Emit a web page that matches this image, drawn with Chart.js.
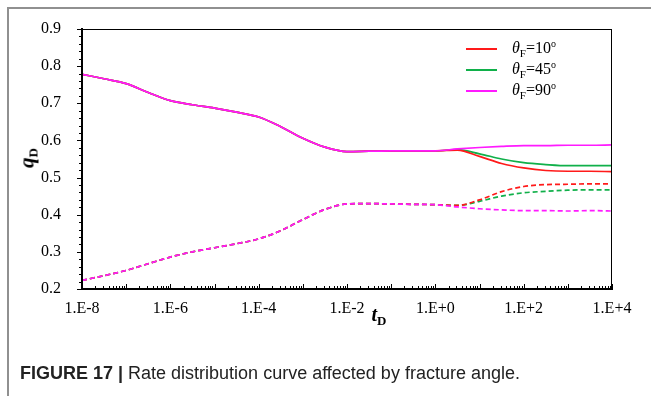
<!DOCTYPE html>
<html>
<head>
<meta charset="utf-8">
<script src="https://cdn.jsdelivr.net/npm/chart.js@4.4.1/dist/chart.umd.min.js"></script>
<style>
  html, body { margin: 0; padding: 0; background: #fff; }
  #wrap { position: relative; width: 651px; height: 396px; overflow: hidden; }
  #frame { position: absolute; left: 7px; top: 7px; right: -2px; bottom: -2px;
           border-top: 2px solid #909090; border-left: 2px solid #909090; }
  #chartBox { position: absolute; left: 0; top: 0; width: 651px; height: 396px; }
  .serif { font-family: 'Liberation Serif', 'Times New Roman', serif; color: #000; }
  #yTitle { position: absolute; left: 28px; top: 158px; transform: translate(-50%, -50%) rotate(-90deg);
            font-size: 21px; white-space: nowrap; }
  #xTitle { position: absolute; left: 379px; top: 316px; transform: translate(-50%, -50%);
            font-size: 20px; white-space: nowrap; }
  .sub { font-size: 13px; font-weight: bold; font-style: normal; vertical-align: -4px; }
  #legend { position: absolute; left: 466px; top: 38px; font-size: 16px; }
  #legend .row { height: 21px; display: flex; align-items: center; }
  #legend .swatch { width: 31px; height: 2px; margin-right: 15px; }
  #legend .lsub { font-size: 11px; vertical-align: -4px; }
  #legend .lsup { font-size: 10px; vertical-align: 6px; }
  #caption { position: absolute; left: 20px; top: 363px; font-family: 'Liberation Sans', Arial, sans-serif;
             font-size: 18px; color: #222; white-space: nowrap; }
</style>
</head>
<body>
<div id="wrap">
  <div id="frame"></div>
  <div id="chartBox"><canvas id="rateChart" width="651" height="396"></canvas></div>
  <div id="yTitle" class="serif"><b><i>q</i></b><span class="sub">D</span></div>
  <div id="xTitle" class="serif"><b><i>t</i></b><span class="sub">D</span></div>
  <div id="legend" class="serif"></div>
  <div id="caption"><b>FIGURE 17 |</b> Rate distribution curve affected by fracture angle.</div>
</div>
<script>
// dimensionless time, half-decade steps
const tD = [1e-8, 3.16e-8, 1e-7, 3.16e-7, 1e-6, 3.16e-6, 1e-5, 3.16e-5, 1e-4, 3.16e-4,
            1e-3, 3.16e-3, 1e-2, 3.16e-2, 1e-1, 3.16e-1, 1, 3.16, 10, 31.6, 100, 316, 1000, 3160, 10000];

// solid curves
const qSolid10 = [0.778, 0.766, 0.753, 0.729, 0.707, 0.696, 0.687, 0.676, 0.663, 0.637,
                  0.606, 0.582, 0.570, 0.571, 0.572, 0.572, 0.572, 0.574, 0.557, 0.538,
                  0.526, 0.519, 0.517, 0.517, 0.516];
const qSolid45 = [0.778, 0.766, 0.753, 0.729, 0.707, 0.696, 0.687, 0.676, 0.663, 0.637,
                  0.606, 0.582, 0.570, 0.571, 0.572, 0.572, 0.572, 0.575, 0.564, 0.550,
                  0.540, 0.535, 0.532, 0.532, 0.532];
const qSolid90 = [0.778, 0.766, 0.753, 0.729, 0.707, 0.696, 0.687, 0.676, 0.663, 0.637,
                  0.606, 0.582, 0.570, 0.571, 0.572, 0.572, 0.572, 0.577, 0.581, 0.584,
                  0.586, 0.586, 0.587, 0.587, 0.588];

// dashed curves
const qDash10 = [0.223, 0.236, 0.250, 0.268, 0.286, 0.300, 0.311, 0.322, 0.335, 0.357,
                 0.387, 0.414, 0.429, 0.430, 0.429, 0.428, 0.427, 0.425, 0.440, 0.462,
                 0.476, 0.481, 0.482, 0.483, 0.483];
const qDash45 = [0.223, 0.236, 0.250, 0.268, 0.286, 0.300, 0.311, 0.322, 0.335, 0.357,
                 0.387, 0.414, 0.429, 0.430, 0.429, 0.428, 0.427, 0.425, 0.436, 0.450,
                 0.459, 0.463, 0.466, 0.467, 0.467];
const qDash90 = [0.223, 0.236, 0.250, 0.268, 0.286, 0.300, 0.311, 0.322, 0.335, 0.357,
                 0.387, 0.414, 0.429, 0.430, 0.429, 0.428, 0.427, 0.421, 0.416, 0.413,
                 0.411, 0.411, 0.410, 0.411, 0.410];

const angles = ['10', '45', '90'];
const colors = ['#ff1a1a', '#10b04a', '#ff1aff'];
const xTickValues = [1e-8, 1e-6, 1e-4, 1e-2, 1, 1e2, 1e4];
const yMin = 0.2, yMax = 0.9;

const pts = arr => arr.map((v, i) => ({ x: tD[i], y: v }));

const solids = [qSolid10, qSolid45, qSolid90];
const dashes = [qDash10, qDash45, qDash90];

const datasets = [];
solids.forEach((s, i) => datasets.push({
    label: 'θF=' + angles[i] + '°',
    data: pts(s),
    borderColor: colors[i],
    borderWidth: 1.7,
    order: i === 2 ? 0 : 1
}));
dashes.forEach((s, i) => datasets.push({
    label: '',
    data: pts(s),
    borderColor: colors[i],
    borderWidth: 1.7,
    borderDash: [5, 3],
    order: i === 2 ? 0 : 1
}));

// inward tick marks on the x axis, outward on the y axis, plus the thin box
const tickMarks = {
    id: 'tickMarks',
    afterDraw(chart) {
        const { ctx, chartArea: a, scales: { x, y } } = chart;
        ctx.save();
        ctx.strokeStyle = '#000';
        ctx.lineWidth = 1;
        ctx.strokeRect(a.left + 0.5, a.top + 0.5, a.right - a.left - 1, a.bottom - a.top);
        ctx.beginPath();
        for (let k = 0; k <= 35; k++) {
            const py = Math.round(y.getPixelForValue(yMin + k * 0.02)) + 0.5;
            const len = k % 5 === 0 ? 5 : 3;
            ctx.moveTo(a.left - len, py);
            ctx.lineTo(a.left, py);
        }
        for (let e = -8; e <= 4; e++) {
            for (let n = 1; n <= 9; n++) {
                if (e === 4 && n > 1) break;
                const px = Math.round(x.getPixelForValue(n * Math.pow(10, e))) + 0.5;
                const len = n === 1 ? 5 : 3;
                ctx.moveTo(px, a.bottom);
                ctx.lineTo(px, a.bottom - len);
            }
        }
        ctx.stroke();
        ctx.restore();
    }
};

const chart = new Chart(document.getElementById('rateChart'), {
    type: 'line',
    data: { datasets: datasets },
    options: {
        responsive: false,
        animation: false,
        events: [],
        elements: {
            point: { radius: 0 },
            line: { cubicInterpolationMode: 'monotone', fill: false }
        },
        layout: { padding: { left: 0, top: 29, right: 39, bottom: 0 } },
        plugins: { legend: { display: false }, tooltip: { enabled: false } },
        scales: {
            x: {
                type: 'logarithmic',
                min: 1e-8,
                max: 1e4,
                afterBuildTicks: axis => { axis.ticks = xTickValues.map(v => ({ value: v })); },
                afterFit: axis => { axis.height = 107; },
                grid: { display: false },
                border: { display: true, color: '#000', width: 2 },
                ticks: {
                    autoSkip: false,
                    maxRotation: 0,
                    padding: 2,
                    color: '#000',
                    font: { family: 'Liberation Serif', size: 16 },
                    callback: v => {
                        const e = Math.round(Math.log10(v));
                        return '1.E' + (e >= 0 ? '+' : '') + e;
                    }
                }
            },
            y: {
                min: yMin,
                max: yMax,
                afterFit: axis => { axis.width = 82; },
                grid: { display: false },
                border: { display: true, color: '#000', width: 2 },
                ticks: {
                    stepSize: 0.1,
                    padding: 13,
                    color: '#000',
                    font: { family: 'Liberation Serif', size: 16 },
                    callback: v => v.toFixed(1)
                }
            }
        }
    },
    plugins: [tickMarks]
});

// legend for the solid curves
const legendEl = document.getElementById('legend');
chart.data.datasets.slice(0, 3).forEach((ds, i) => {
    const row = document.createElement('div');
    row.className = 'row';
    row.innerHTML = '<span class="swatch" style="background:' + ds.borderColor + '"></span>' +
        '<span><i>θ</i><span class="lsub">F</span>=' + angles[i] + '<span class="lsup">o</span></span>';
    legendEl.appendChild(row);
});
</script>
</body>
</html>
